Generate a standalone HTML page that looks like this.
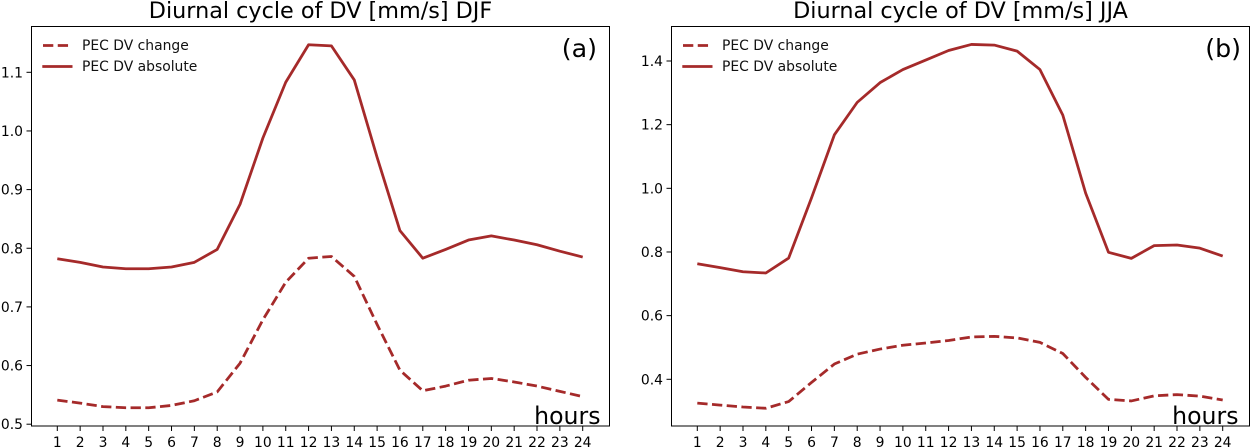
<!DOCTYPE html>
<html>
<head>
<meta charset="utf-8">
<title>Diurnal cycle of DV</title>
<style>
html,body{margin:0;padding:0;background:#fff;width:1251px;height:447px;overflow:hidden}
svg{display:block}
text{font-family:"DejaVu Sans","Liberation Sans",sans-serif;fill:#000}
.tick{font-size:13.9px}
.title{font-size:22.3px;text-anchor:middle}
.leg{font-size:13.9px;fill:#111}
.panel{font-size:25.3px;text-anchor:end}
.hours{font-size:23.6px;text-anchor:end}
</style>
</head>
<body>
<svg id="fig" width="1251" height="447" viewBox="0 0 1251 447" xmlns="http://www.w3.org/2000/svg">
  <g id="panel-a">
    <text class="title" x="320.5" y="18">Diurnal cycle of DV [mm/s] DJF</text>
    <g id="a-marks"></g>
    <rect x="31.5" y="26.5" width="578" height="399.5" fill="none" stroke="#000" stroke-width="1"/>
    <text class="panel" x="597" y="57">(a)</text>
    <text class="hours" x="600.5" y="424">hours</text>
    <g>
      <line x1="43" x2="70.8" y1="45.5" y2="45.5" stroke="#a52a2a" stroke-width="2.78" stroke-dasharray="10.3 4.45"/>
      <text class="leg" x="82" y="50">PEC DV change</text>
      <line x1="42.3" x2="72.5" y1="66.5" y2="66.5" stroke="#a52a2a" stroke-width="2.78"/>
      <text class="leg" x="82" y="71">PEC DV absolute</text>
    </g>
  </g>
  <g id="panel-b">
    <text class="title" x="960.5" y="18">Diurnal cycle of DV [mm/s] JJA</text>
    <g id="b-marks"></g>
    <rect x="671.5" y="26.5" width="578" height="399.5" fill="none" stroke="#000" stroke-width="1"/>
    <text class="panel" x="1241" y="57">(b)</text>
    <text class="hours" x="1238.5" y="424">hours</text>
    <g>
      <line x1="683" x2="710.8" y1="45.5" y2="45.5" stroke="#a52a2a" stroke-width="2.78" stroke-dasharray="10.3 4.45"/>
      <text class="leg" x="722" y="50">PEC DV change</text>
      <line x1="682.3" x2="712.5" y1="66.5" y2="66.5" stroke="#a52a2a" stroke-width="2.78"/>
      <text class="leg" x="722" y="71">PEC DV absolute</text>
    </g>
  </g>
</svg>
<script>
const hours = [1,2,3,4,5,6,7,8,9,10,11,12,13,14,15,16,17,18,19,20,21,22,23,24];
const djfAbsolute = [0.782,0.776,0.768,0.765,0.765,0.768,0.776,0.798,0.875,0.988,1.083,1.147,1.145,1.087,0.955,0.83,0.783,0.798,0.814,0.821,0.814,0.806,0.795,0.785];
const djfChange = [0.541,0.536,0.530,0.528,0.528,0.532,0.540,0.555,0.604,0.678,0.742,0.783,0.786,0.752,0.67,0.592,0.557,0.565,0.575,0.578,0.572,0.565,0.556,0.547];
const jjaAbsolute = [0.763,0.751,0.738,0.734,0.781,0.97,1.168,1.27,1.332,1.373,1.403,1.433,1.452,1.45,1.431,1.373,1.23,0.985,0.799,0.78,0.82,0.822,0.812,0.787];
const jjaChange = [0.325,0.319,0.313,0.309,0.330,0.39,0.448,0.479,0.495,0.507,0.514,0.522,0.533,0.535,0.530,0.516,0.481,0.406,0.337,0.332,0.348,0.352,0.347,0.335];
const djfTicks = ["0.5","0.6","0.7","0.8","0.9","1.0","1.1"];
const jjaTicks = ["0.4","0.6","0.8","1.0","1.2","1.4"];

const NS = 'http://www.w3.org/2000/svg';
function make(tag, attrs, parent) {
  const el = document.createElementNS(NS, tag);
  for (const k in attrs) el.setAttribute(k, attrs[k]);
  parent.appendChild(el);
  return el;
}
function drawPanel(rootId, key, frameLeft, xAt1, xAt24, yRef, pxPerUnit, ticks, absolute, change) {
  const root = document.getElementById(rootId);
  const frameBottom = 426;
  const xScale = h => xAt1 + (h - hours[0]) * (xAt24 - xAt1) / (hours[hours.length - 1] - hours[0]);
  const yScale = v => yRef.py - (v - yRef.v) * pxPerUnit;

  hours.forEach(h => {
    const x = xScale(h);
    const tick = make('line', {x1: x, x2: x, y1: frameBottom, y2: frameBottom + 5, stroke: '#000', 'stroke-width': 1}, root);
    
    
    const label = make('text', {class: 'tick', x: x, y: frameBottom + 21, 'text-anchor': 'middle'}, root);
    label.textContent = h;
    
    
  });

  ticks.forEach(t => {
    const y = yScale(parseFloat(t));
    const tick = make('line', {x1: frameLeft - 5, x2: frameLeft, y1: y, y2: y, stroke: '#000', 'stroke-width': 1}, root);
    
    
    const label = make('text', {class: 'tick', x: frameLeft - 8.5, y: y + 5, 'text-anchor': 'end'}, root);
    label.textContent = t;
    
    
  });

  const toPoints = vals => vals.map((v, i) => xScale(hours[i]).toFixed(2) + ',' + yScale(v).toFixed(2)).join(' ');

  const changeLine = make('polyline', {points: toPoints(change), fill: 'none', stroke: '#a52a2a', 'stroke-width': 2.78, 'stroke-dasharray': '10.3 4.45', 'stroke-linejoin': 'round'}, root);
  
  

  const absLine = make('polyline', {points: toPoints(absolute), fill: 'none', stroke: '#a52a2a', 'stroke-width': 2.78, 'stroke-linejoin': 'round'}, root);
  
  
}
drawPanel('a-marks', 'djf', 31.5, 57.3, 582.7, {v: 1.1, py: 72.3}, 586.5, djfTicks, djfAbsolute, djfChange);
drawPanel('b-marks', 'jja', 671.5, 697.3, 1222.7, {v: 1.4, py: 61}, 318.3, jjaTicks, jjaAbsolute, jjaChange);
</script>
</body>
</html>
